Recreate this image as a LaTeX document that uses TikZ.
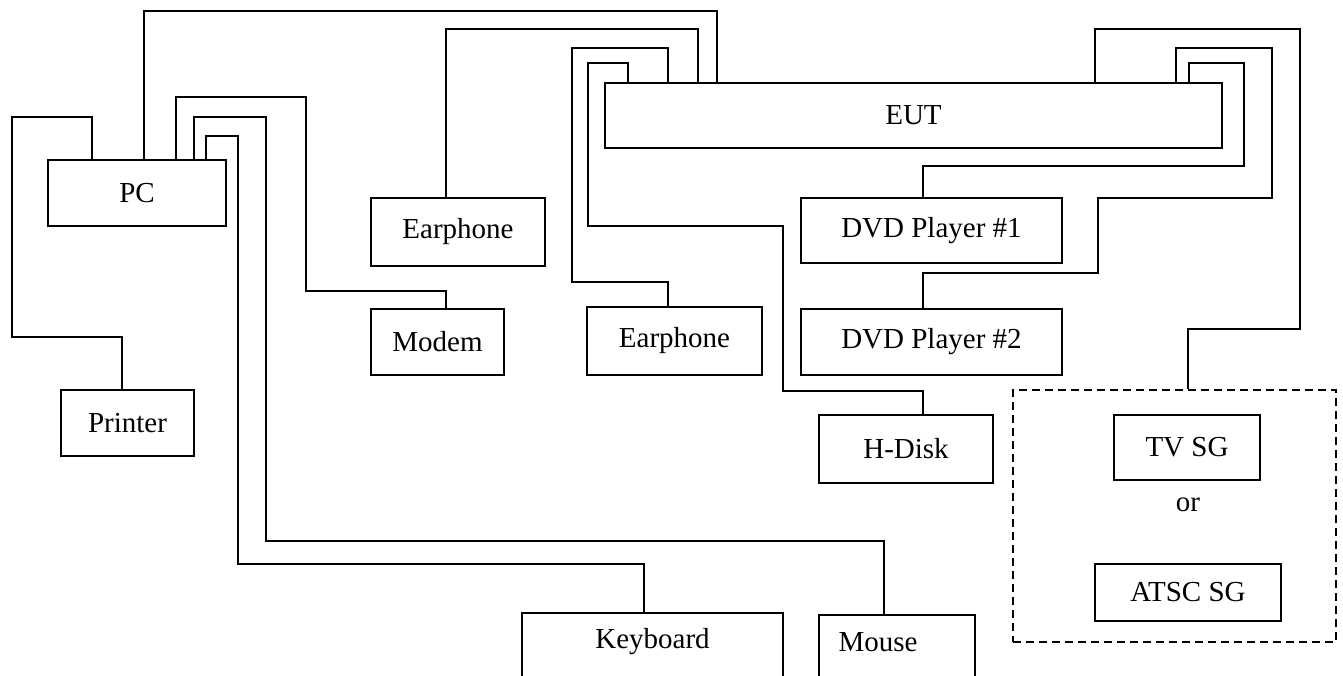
\documentclass[tikz,border=0pt]{standalone}
\usepackage{fontspec}
\setmainfont{Liberation Serif}
\begin{document}
\begin{tikzpicture}[x=1pt,y=-1pt,
  box/.style={draw,line width=1.6pt,inner sep=0pt,font=\fontsize{29}{34}\selectfont},
  lbl/.style={inner sep=0pt,font=\fontsize{29}{34}\selectfont},
  wire/.style={line width=1.6pt,line join=miter},
  grp/.style={draw,line width=1.6pt,dash pattern=on 8pt off 5pt}]
\path[use as bounding box,clip] (0,0) rectangle (1343,676);
% devices
\node[box,minimum width=178,minimum height=66] (PC) at (137,193) {PC};
\node[box,minimum width=133,minimum height=66] (Printer) at (127.5,423) {Printer};
\node[box,minimum width=174,minimum height=68] (E1) at (458,232) {Earphone};
\node[box,minimum width=133,minimum height=66] (Modem) at (437.5,342) {Modem};
\node[box,minimum width=175,minimum height=68] (E2) at (674.5,341) {Earphone};
\node[box,minimum width=617,minimum height=65] (EUT) at (913.5,115.5) {EUT};
\node[box,minimum width=261,minimum height=65] (DVD1) at (931.5,230.5) {DVD Player \#1};
\node[box,minimum width=261,minimum height=66] (DVD2) at (931.5,342) {DVD Player \#2};
\node[box,minimum width=174,minimum height=68] (HD) at (906,449) {H-Disk};
\node[box,minimum width=261,minimum height=100,anchor=north] (KB) at (652.5,612) {};
\node[lbl] (KBt) at (652.5,642) {Keyboard};
\node[box,minimum width=156,minimum height=100,anchor=north] (Mouse) at (897,614) {};
\node[lbl] (Mouset) at (878,642) {Mouse};
\node[grp,minimum width=323,minimum height=252,inner sep=0pt] (SG) at (1174.5,516) {};
\node[box,minimum width=146,minimum height=65] (TV) at (1187,447.5) {TV SG};
\node[lbl] (or) at (1188,505) {or};
\node[box,minimum width=186,minimum height=57] (ATSC) at (1188,592.5) {ATSC SG};
% cables
\draw[wire] (92,0 |- PC.north) -- (92,117) -- (12,117) -- (12,337) -- (122,337) -- (122,0 |- Printer.north);
\draw[wire] (144,0 |- PC.north) -- (144,11) -- (717,11) -- (717,0 |- EUT.north);
\draw[wire] (176,0 |- PC.north) -- (176,97) -- (306,97) -- (306,291) -- (446,291) -- (446,0 |- Modem.north);
\draw[wire] (194,0 |- PC.north) -- (194,117) -- (266,117) -- (266,541) -- (884,541) -- (884,0 |- Mouse.north);
\draw[wire] (206,0 |- PC.north) -- (206,136) -- (238,136) -- (238,564) -- (644,564) -- (644,0 |- KB.north);
\draw[wire] (446,0 |- E1.north) -- (446,29) -- (698,29) -- (698,0 |- EUT.north);
\draw[wire] (628,0 |- EUT.north) -- (628,63) -- (588,63) -- (588,226) -- (783,226) -- (783,391) -- (923,391) -- (923,0 |- HD.north);
\draw[wire] (668,0 |- EUT.north) -- (668,48) -- (572,48) -- (572,282) -- (668,282) -- (668,0 |- E2.north);
\draw[wire] (923,0 |- DVD1.north) -- (923,166) -- (1244,166) -- (1244,63) -- (1189,63) -- (1189,0 |- EUT.north);
\draw[wire] (923,0 |- DVD2.north) -- (923,273) -- (1098,273) -- (1098,198) -- (1272,198) -- (1272,48) -- (1176,48) -- (1176,0 |- EUT.north);
\draw[wire] (1095,0 |- EUT.north) -- (1095,29) -- (1300,29) -- (1300,329) -- (1188,329) -- (1188,0 |- SG.north);
\end{tikzpicture}
\end{document}
